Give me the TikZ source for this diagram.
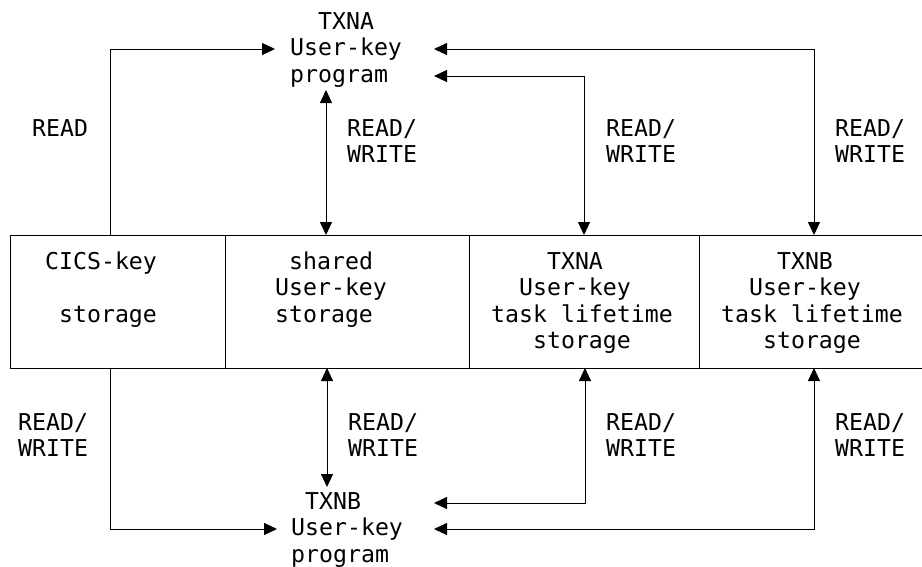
\documentclass[tikz,border=0pt]{standalone}
\usepackage{fontspec}
\newfontfamily\diagfont{DejaVu Sans Mono}
\usetikzlibrary{arrows.meta}
\begin{document}
\begin{tikzpicture}[x=1pt,y=-1pt,
  txt/.style={anchor=base west, inner sep=0pt, font=\diagfont\fontsize{23.2pt}{26.5pt}\selectfont},
  line/.style={line width=0.9pt},
  tip/.tip={Triangle[length=13pt,width=12pt]},
  onearrow/.style={line, -tip},
  twoarrow/.style={line, tip-tip}]
\useasboundingbox (0,0) rectangle (922,566);
% storage box
\draw[line] (930,235) -- (10,235) -- (10,368) -- (930,368);
\draw[line] (225,235) -- (225,368);
\draw[line] (469,235) -- (469,368);
\draw[line] (699,235) -- (699,368);
% program texts
\node[txt] (pa1) at (290,29) {\hphantom{xx}TXNA};
\node[txt] (pa2) at (290,55.5) {User-key};
\node[txt] (pa3) at (290,82) {program};
\node[txt] (pb1) at (291,509) {\hphantom{x}TXNB};
\node[txt] (pb2) at (291,535.5) {User-key};
\node[txt] (pb3) at (291,562) {program};
% cell texts
\node[txt] (c11) at (45,269) {CICS-key};
\node[txt] (c12) at (45,322) {\hphantom{x}storage};
\node[txt] (c21) at (275,269) {\hphantom{x}shared};
\node[txt] (c22) at (275,295.5) {User-key};
\node[txt] (c23) at (275,322) {storage};
\node[txt] (c31) at (491,269) {\hphantom{xxxx}TXNA};
\node[txt] (c32) at (491,295.5) {\hphantom{xx}User-key};
\node[txt] (c33) at (491,322) {task lifetime};
\node[txt] (c34) at (491,348.5) {\hphantom{xxx}storage};
\node[txt] (c41) at (721,269) {\hphantom{xxxx}TXNB};
\node[txt] (c42) at (721,295.5) {\hphantom{xx}User-key};
\node[txt] (c43) at (721,322) {task lifetime};
\node[txt] (c44) at (721,348.5) {\hphantom{xxx}storage};
% labels
\node[txt] (l1) at (32,136) {READ};
\node[txt] (l2a) at (347,136) {READ/};
\node[txt] (l2b) at (347,162.5) {WRITE};
\node[txt] (l3a) at (606,136) {READ/};
\node[txt] (l3b) at (606,162.5) {WRITE};
\node[txt] (l4a) at (835,136) {READ/};
\node[txt] (l4b) at (835,162.5) {WRITE};
\node[txt] (m1a) at (18,430) {READ/};
\node[txt] (m1b) at (18,456.5) {WRITE};
\node[txt] (m2a) at (348,430) {READ/};
\node[txt] (m2b) at (348,456.5) {WRITE};
\node[txt] (m3a) at (606,430) {READ/};
\node[txt] (m3b) at (606,456.5) {WRITE};
\node[txt] (m4a) at (835,430) {READ/};
\node[txt] (m4b) at (835,456.5) {WRITE};
% endpoints
\coordinate (t1) at (110,235);
\coordinate (t2) at (326,235);
\coordinate (t3) at (584,235);
\coordinate (t4) at (814,235);
\coordinate (b1) at (110,368);
\coordinate (b2) at (327,368);
\coordinate (b3) at (585,368);
\coordinate (b4) at (814,368);
\coordinate (pain) at (275,49);
\coordinate (paup) at (326,90);
\coordinate (par1) at (434,49);
\coordinate (par2) at (434,76);
\coordinate (pbin) at (277,529);
\coordinate (pbdn) at (327,487);
\coordinate (pbr1) at (434,503);
\coordinate (pbr2) at (434,529);
% connectors top
\draw[onearrow] (t1) |- (pain);
\draw[twoarrow] (t2) -- (paup);
\draw[twoarrow] (par2) -| (t3);
\draw[twoarrow] (par1) -| (t4);
% connectors bottom
\draw[onearrow] (b1) |- (pbin);
\draw[twoarrow] (b2) -- (pbdn);
\draw[twoarrow] (pbr1) -| (b3);
\draw[twoarrow] (pbr2) -| (b4);
\end{tikzpicture}
\end{document}
